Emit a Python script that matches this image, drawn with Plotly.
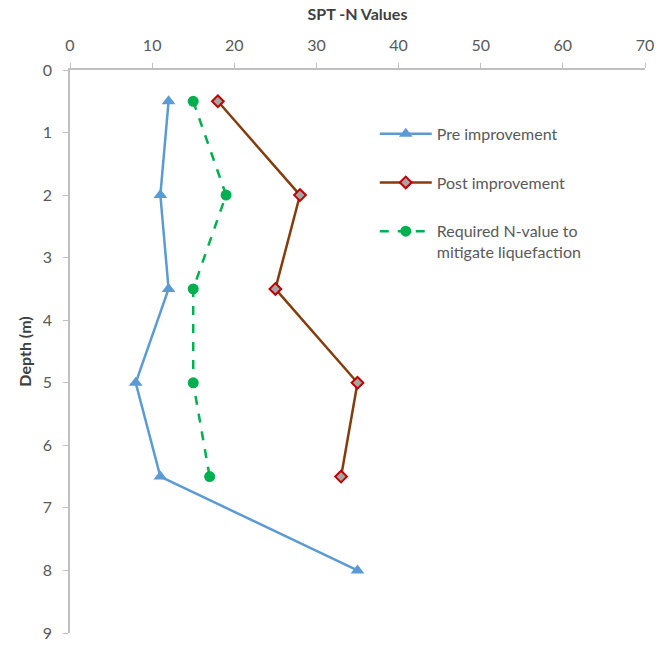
import plotly.graph_objects as go

# SPT-N values against depth
depth = [0.5, 2, 3.5, 5, 6.5, 8]
pre_improvement = [12, 11, 12, 8, 11, 35]

depth_post = [0.5, 2, 3.5, 5, 6.5]
post_improvement = [18, 28, 25, 35, 33]

depth_req = [0.5, 2, 3.5, 5, 6.5]
required_n = [15, 19, 15, 15, 17]

x_ticks = [0, 10, 20, 30, 40, 50, 60, 70]
y_ticks = [0, 1, 2, 3, 4, 5, 6, 7, 8, 9]

FONT = "Lato, Open Sans, sans-serif"

fig = go.Figure()
fig.add_trace(go.Scatter(
    x=pre_improvement, y=depth, mode="lines+markers", name="Pre improvement",
    legendgroup="a",
    line=dict(color="#5B9BD5", width=2.5),
    marker=dict(symbol="triangle-up", size=12, color="#5B9BD5"),
))
fig.add_trace(go.Scatter(
    x=post_improvement, y=depth_post, mode="lines+markers", name="Post improvement",
    legendgroup="b",
    line=dict(color="#843C0C", width=2.5),
    marker=dict(symbol="diamond", size=9, color="#A5A5A5",
                line=dict(color="#C00000", width=2)),
))
fig.add_trace(go.Scatter(
    x=required_n, y=depth_req, mode="lines+markers",
    name="Required N-value to<br>mitigate liquefaction",
    legendgroup="c",
    line=dict(color="#00B050", width=2.5, dash="dash"),
    marker=dict(symbol="circle", size=11, color="#00B050"),
))

fig.update_layout(
    width=657, height=645,
    margin=dict(l=70, r=12, t=70, b=12),
    paper_bgcolor="white", plot_bgcolor="white",
    font=dict(family=FONT, color="#595959", size=16),
    legend=dict(x=0.53, y=0.917, xanchor="left", yanchor="top",
                font=dict(size=16, color="#595959"),
                itemwidth=52, valign="top",
                tracegroupgap=25, bgcolor="rgba(0,0,0,0)"),
    xaxis=dict(
        range=[0, 70], side="top", tickvals=x_ticks,
        automargin=False,
        showgrid=False, zeroline=False,
        showline=True, linecolor="#BFBFBF", linewidth=1.5,
        ticks="outside", ticklen=5, tickcolor="#BFBFBF",
        ticklabelstandoff=6,
        tickfont=dict(size=16, color="#595959"),
        title=dict(text="<b>SPT -N Values</b>", font=dict(size=16, color="#404040"),
                   standoff=10),
    ),
    yaxis=dict(
        range=[9, 0], tickvals=y_ticks,
        automargin=False,
        showgrid=False, zeroline=False,
        showline=True, linecolor="#BFBFBF", linewidth=1.5,
        ticks="outside", ticklen=5, tickcolor="#BFBFBF",
        ticklabelstandoff=8,
        tickfont=dict(size=16, color="#595959"),
        title=dict(text="<b>Depth (m)</b>", font=dict(size=16, color="#404040"),
                   standoff=7),
    ),
)

fig.write_html("out.html")
